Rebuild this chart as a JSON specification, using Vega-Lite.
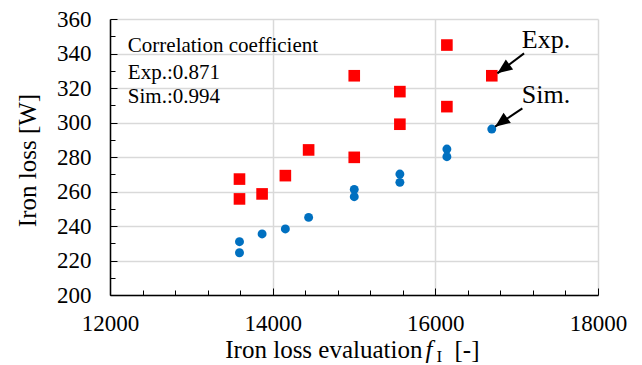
{
  "$schema": "https://vega.github.io/schema/vega-lite/v6.json",
  "width": 488,
  "height": 276,
  "autosize": {"type": "none"},
  "padding": {"left": 110, "top": 19, "right": 44, "bottom": 70},
  "background": "white",
  "config": {"view": {"stroke": null}, "font": "Liberation Serif"},
  "datasets": {
    "exp": [
      {"x": 13592, "y": 267.2}, {"x": 13592, "y": 255.7}, {"x": 13870, "y": 258.6},
      {"x": 14156, "y": 269.2}, {"x": 14442, "y": 284.1}, {"x": 15003, "y": 327.1},
      {"x": 15003, "y": 279.8}, {"x": 15564, "y": 317.9}, {"x": 15564, "y": 299.0},
      {"x": 16142, "y": 344.9}, {"x": 16142, "y": 309.2}, {"x": 16694, "y": 327.1}
    ],
    "sim": [
      {"x": 13592, "y": 230.9}, {"x": 13592, "y": 224.5}, {"x": 13870, "y": 235.4},
      {"x": 14156, "y": 238.3}, {"x": 14442, "y": 245.0}, {"x": 15003, "y": 261.2},
      {"x": 15003, "y": 257.0}, {"x": 15564, "y": 270.1}, {"x": 15564, "y": 265.3},
      {"x": 16142, "y": 284.6}, {"x": 16142, "y": 280.2}, {"x": 16694, "y": 296.2}
    ],
    "notes": [
      {"x": 12219, "y": 340.6, "t": "Correlation coefficient"},
      {"x": 12219, "y": 325.5, "t": "Exp.:0.871"},
      {"x": 12219, "y": 311.3, "t": "Sim.:0.994"}
    ],
    "labels": [
      {"x": 17063, "y": 343.0, "t": "Exp."},
      {"x": 17063, "y": 311.1, "t": "Sim."}
    ],
    "arrows": [
      {"x": 17091, "y": 340.1, "x2": 16763, "y2": 328.5},
      {"x": 17070, "y": 308.2, "x2": 16735, "y2": 297.6}
    ]
  },
  "layer": [
    {
      "data": {"name": "exp"},
      "mark": {"type": "point", "shape": "square", "filled": true, "opacity": 1, "color": "#FF0000", "size": 135},
      "encoding": {
        "x": {
          "field": "x", "type": "quantitative",
          "scale": {"domain": [12000, 18000], "nice": false, "zero": false},
          "axis": {
            "title": null,
            "values": [12000, 12400, 12800, 13200, 13600, 14000, 14400, 14800, 15200, 15600, 16000, 16400, 16800, 17200, 17600, 18000],
            "tickCount": 100,
            "format": "d",
            "labelExpr": "datum.value % 2000 === 0 ? datum.label : ''",
            "labelFont": "Liberation Serif", "labelFontSize": 23, "labelColor": "black",
            "labelPadding": 24, "labelOverlap": false, "labelFlush": false,
            "tickSize": {"condition": {"test": "datum.value % 2000 === 0", "value": -7}, "value": -5},
            "tickColor": "black", "tickWidth": 1,
            "domainColor": "black", "domainWidth": 1.5,
            "grid": true, "gridColor": "#D9D9D9", "gridWidth": 1.5,
            "gridOpacity": {"condition": {"test": "datum.value % 2000 === 0", "value": 1}, "value": 0}
          }
        },
        "y": {
          "field": "y", "type": "quantitative",
          "scale": {"domain": [200, 360], "nice": false, "zero": false},
          "axis": {
            "title": "Iron loss [W]",
            "titleFont": "Liberation Serif", "titleFontSize": 25, "titleFontWeight": "normal", "titleColor": "black",
            "titleAngle": -90, "titleX": -75, "titleY": 141, "titleAlign": "center", "titleBaseline": "alphabetic",
            "values": [200, 210, 220, 230, 240, 250, 260, 270, 280, 290, 300, 310, 320, 330, 340, 350, 360],
            "tickCount": 100,
            "labelExpr": "datum.value % 20 === 0 ? datum.label : ''",
            "labelFont": "Liberation Serif", "labelFontSize": 23, "labelColor": "black",
            "labelPadding": 26, "labelOverlap": false, "labelFlush": false,
            "tickSize": {"condition": {"test": "datum.value % 20 === 0", "value": -7}, "value": -5},
            "tickColor": "black", "tickWidth": 1,
            "domainColor": "black", "domainWidth": 1.5,
            "grid": true, "gridColor": "#D9D9D9", "gridWidth": 1.5,
            "gridOpacity": {"condition": {"test": "datum.value % 20 === 0", "value": 1}, "value": 0}
          }
        }
      }
    },
    {
      "data": {"name": "sim"},
      "mark": {"type": "point", "shape": "circle", "filled": true, "opacity": 1, "color": "#0070C0", "size": 80},
      "encoding": {
        "x": {"field": "x", "type": "quantitative"},
        "y": {"field": "y", "type": "quantitative"}
      }
    },
    {
      "data": {"name": "notes"},
      "mark": {"type": "text", "align": "left", "baseline": "alphabetic", "font": "Liberation Serif", "fontSize": 21, "color": "black"},
      "encoding": {
        "x": {"field": "x", "type": "quantitative"},
        "y": {"field": "y", "type": "quantitative"},
        "text": {"field": "t"}
      }
    },
    {
      "data": {"name": "labels"},
      "mark": {"type": "text", "align": "left", "baseline": "alphabetic", "font": "Liberation Serif", "fontSize": 26, "color": "black"},
      "encoding": {
        "x": {"field": "x", "type": "quantitative"},
        "y": {"field": "y", "type": "quantitative"},
        "text": {"field": "t"}
      }
    },
    {
      "data": {"name": "arrows"},
      "mark": {"type": "rule", "color": "black", "strokeWidth": 2},
      "encoding": {
        "x": {"field": "x", "type": "quantitative"},
        "y": {"field": "y", "type": "quantitative"},
        "x2": {"field": "x2"},
        "y2": {"field": "y2"}
      }
    },
    {
      "data": {"name": "arrows"},
      "mark": {"type": "point", "shape": "M0,0L-1,2.4L1,2.4Z", "filled": true, "opacity": 1, "color": "black", "size": 155, "angle": 234},
      "encoding": {
        "x": {"field": "x2", "type": "quantitative"},
        "y": {"field": "y2", "type": "quantitative"}
      }
    },
    {
      "data": {"values": [{"x": 15842, "y": 163.3, "t": "Iron loss evaluation"}]},
      "mark": {"type": "text", "align": "right", "baseline": "alphabetic", "font": "Liberation Serif", "fontSize": 25, "color": "black"},
      "encoding": {
        "x": {"field": "x", "type": "quantitative"},
        "y": {"field": "y", "type": "quantitative"},
        "text": {"field": "t"}
      }
    },
    {
      "data": {"values": [{"x": 15880, "y": 163.3, "t": "f"}]},
      "mark": {"type": "text", "align": "left", "baseline": "alphabetic", "font": "Liberation Serif", "fontSize": 25, "fontStyle": "italic", "color": "black"},
      "encoding": {
        "x": {"field": "x", "type": "quantitative"},
        "y": {"field": "y", "type": "quantitative"},
        "text": {"field": "t"}
      }
    },
    {
      "data": {"values": [{"x": 16015, "y": 161.4, "t": "I"}]},
      "mark": {"type": "text", "align": "left", "baseline": "alphabetic", "font": "Liberation Serif", "fontSize": 17, "color": "black"},
      "encoding": {
        "x": {"field": "x", "type": "quantitative"},
        "y": {"field": "y", "type": "quantitative"},
        "text": {"field": "t"}
      }
    },
    {
      "data": {"values": [{"x": 16236, "y": 163.3, "t": "[-]"}]},
      "mark": {"type": "text", "align": "left", "baseline": "alphabetic", "font": "Liberation Serif", "fontSize": 25, "color": "black"},
      "encoding": {
        "x": {"field": "x", "type": "quantitative"},
        "y": {"field": "y", "type": "quantitative"},
        "text": {"field": "t"}
      }
    }
  ]
}
